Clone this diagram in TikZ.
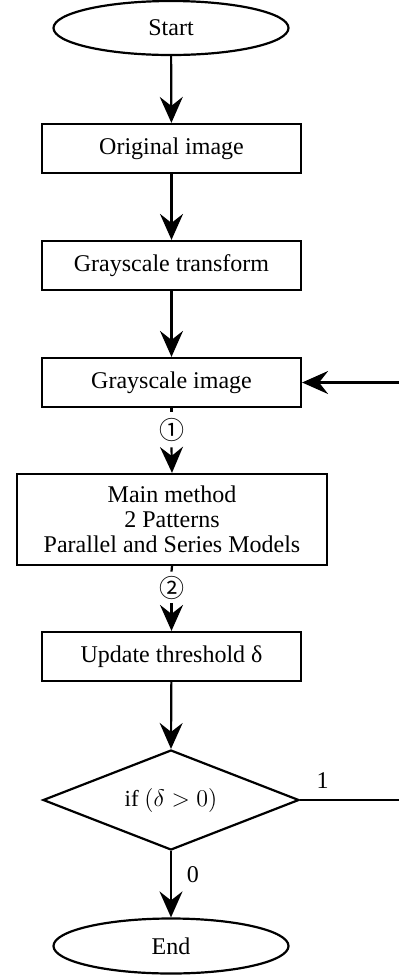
\documentclass[tikz,border=0pt]{standalone}
\usepackage{fontspec}
\setmainfont{Liberation Serif}
\newfontfamily\circfont{Noto Sans CJK SC}
\usetikzlibrary{shapes.geometric,arrows.meta}
\begin{document}
\begin{tikzpicture}[x=0.5pt,y=-0.5pt,
  every node/.style={font=\fontsize{12}{12.5}\selectfont},
  terminal/.style={ellipse,draw,line width=1.1pt,minimum width=117.5pt,minimum height=27pt,inner sep=0pt},
  procbox/.style={rectangle,draw,line width=1.1pt,minimum width=129.5pt,minimum height=24.5pt,inner sep=0pt,align=center},
  decision/.style={diamond,draw,line width=1.1pt,minimum width=128pt,minimum height=50pt,inner sep=0pt,aspect=2.56},
  circlbl/.style={inner sep=0pt,font=\circfont\fontsize{12.5}{12.5}\selectfont},
  arr/.style={line width=1.1pt,-{Stealth[length=13pt,width=11.5pt,inset=4.5pt]}},
  conn/.style={line width=1.1pt}
]
\useasboundingbox (0,0) rectangle (398,976);
\node[terminal] (start) at (171,28) {Start};
\node[procbox] (orig) at (171.5,148.5) {Original image};
\node[procbox] (trans) at (171.5,265.5) {Grayscale transform};
\node[procbox] (gimg) at (171.5,382.5) {Grayscale image};
\node[circlbl,minimum height=17.5pt] (c1) at (171.5,429.5) {\raisebox{0pt}{①}};
\node[procbox,minimum width=155pt,minimum height=45.5pt] (main) at (172,519.5) {Main method\\2 Patterns\\Parallel and Series Models};
\node[circlbl,minimum height=15.5pt] (c2) at (171.5,587.5) {\raisebox{1pt}{②}};
\node[procbox] (upd) at (171.5,656.5) {Update threshold δ};
\node[decision] (dec) at (171,800) {\fontsize{11.5}{12}\selectfont$\mathrm{if}\ (\delta > 0)$};
\node[terminal,minimum height=27.5pt] (end) at (171,946) {End};
\coordinate (r1) at (402,800);
\coordinate (r2) at (402,382.5);
\draw[arr] (start) -- (orig);
\draw[arr] (orig) -- (trans);
\draw[arr] (trans) -- (gimg);
\draw[conn] (gimg.south) -- (c1.north);
\draw[arr] (c1.south) -- (main.north);
\draw[conn] (main.south) -- (c2.north);
\draw[arr] (c2.south) -- (upd.north);
\draw[arr] (upd) -- (dec.north);
\draw[arr] (dec.south) -- node[pos=0.35,right=4pt] (l0) {0} (end);
\draw[conn] (dec.east) -- node[pos=0.22,above=2pt] (l1) {1} (r1) -- (r2);
\draw[arr] (r2) -- (gimg.east);
\end{tikzpicture}
\end{document}
